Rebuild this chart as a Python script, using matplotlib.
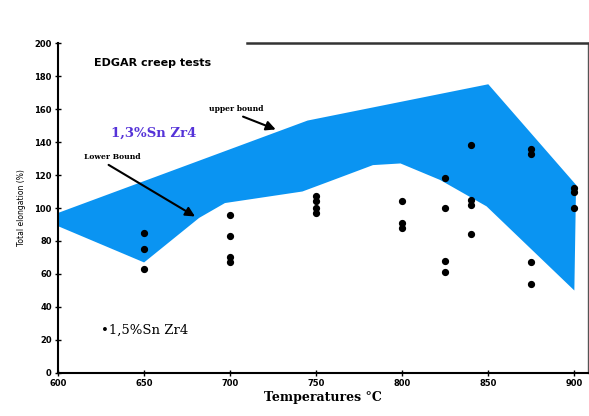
import matplotlib
matplotlib.use("Agg")
from matplotlib import pyplot as plt

# band of the 1,3%Sn Zr4 alloy
upper_t = [600, 745, 850, 901]
upper_e = [97, 153, 175, 114]
lower_t = [600, 650, 682, 697, 742, 760, 783, 799, 822, 849, 900]
lower_e = [89, 67, 94, 103, 110, 117, 126, 127, 117, 101, 50]

# 1,5%Sn Zr4 test points
pts_t = [650, 650, 650,
         700, 700, 700, 700,
         750, 750, 750, 750,
         800, 800, 800,
         825, 825, 825, 825,
         840, 840, 840, 840,
         875, 875, 875, 875,
         900, 900, 900]
pts_e = [85, 75, 63,
         96, 83, 70, 67,
         107, 104, 100, 97,
         104, 91, 88,
         118, 100, 68, 61,
         138, 105, 102, 84,
         136, 133, 67, 54,
         112, 110, 100]

x_ticks = [600, 650, 700, 750, 800, 850, 900]
y_ticks = list(range(0, 201, 20))

BLUE = "#0a94f2"


def main():
    fig = plt.figure(figsize=(5.89, 4.16), dpi=100)
    ax = fig.add_axes([0.0985, 0.1034, 0.9, 0.7932])

    # band polygon: upper bound left->right, lower bound right->left
    poly_t = upper_t + lower_t[::-1]
    poly_e = upper_e + lower_e[::-1]
    ax.fill(poly_t, poly_e, color=BLUE, lw=0, zorder=1)

    ax.plot(pts_t, pts_e, "o", color="black", ms=4.2, zorder=3)

    ax.set_xlim(600, 908)
    ax.set_ylim(0, 200)
    ax.set_xticks(x_ticks)
    ax.set_yticks(y_ticks)
    ax.tick_params(direction="inout", length=5, width=1, labelsize=6, pad=2)
    for lab in ax.get_xticklabels() + ax.get_yticklabels():
        lab.set_fontweight("bold")

    for s in ["left", "bottom"]:
        ax.spines[s].set_linewidth(1.5)
    ax.spines["right"].set_linewidth(1.0)
    ax.spines["right"].set_color("#555555")
    ax.spines["top"].set_linewidth(1.8)
    ax.spines["top"].set_color("#333333")
    ax.spines["top"].set_bounds(710, 908)

    ax.set_ylabel("Total elongation (%)", fontsize=5.5, labelpad=6)
    ax.set_xlabel("Temperatures °C", family="DejaVu Serif", fontsize=9,
                  fontweight="bold", labelpad=2)

    ax.text(621, 188, "EDGAR creep tests", fontsize=8, fontweight="bold",
            va="center")
    ax.text(631, 145, "1,3%Sn Zr4", family="DejaVu Serif", fontsize=9.5,
            fontweight="bold", color="#5533d8", va="center")
    ax.text(688, 160, "upper bound", family="DejaVu Serif", fontsize=5.5,
            fontweight="bold", va="center")
    ax.text(615, 131, "Lower Bound", family="DejaVu Serif", fontsize=5.5,
            fontweight="bold", va="center")
    ax.text(625, 26, "•1,5%Sn Zr4", family="DejaVu Serif", fontsize=9.5,
            va="center")

    ax.annotate("", xy=(728, 147), xytext=(706, 156),
                arrowprops=dict(arrowstyle="-|>", color="black", lw=1.5,
                                mutation_scale=14))
    ax.annotate("", xy=(681, 94), xytext=(628, 127),
                arrowprops=dict(arrowstyle="-|>", color="black", lw=1.5,
                                mutation_scale=14))

    fig.savefig("out.png", dpi=100)


if __name__ == '__main__':
    main()
